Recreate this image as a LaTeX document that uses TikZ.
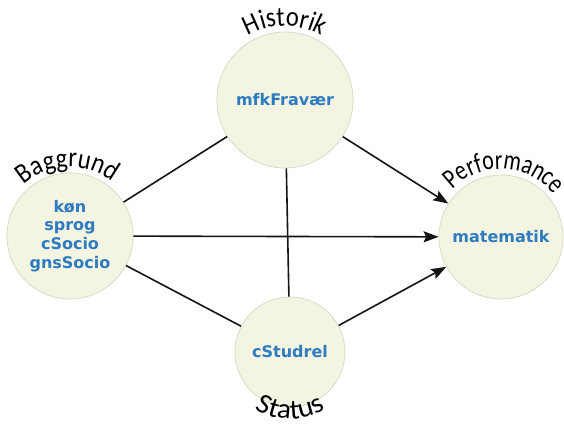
\documentclass[tikz,border=0pt]{standalone}
\usepackage{fontspec}
\usetikzlibrary{arrows.meta,decorations.text}
\newfontfamily\vfont{DejaVu Sans}
% arched group names, each set a little wider or narrower to fit its arc
\newfontfamily\hisfont[FakeStretch=0.88]{Carlito}
\newfontfamily\bagfont[FakeStretch=0.88]{Carlito}
\newfontfamily\perfont[FakeStretch=0.78]{Carlito}
\newfontfamily\stafont[FakeStretch=1.05]{Carlito}
\newcommand\arcsize{\fontsize{28pt}{32pt}\selectfont}
\definecolor{circfill}{HTML}{F4F4E3}
\definecolor{circline}{HTML}{DADAC6}
\definecolor{vartext}{HTML}{2E7BC0}
\definecolor{edgecol}{HTML}{141414}
\tikzset{
  varcircle/.style={circle, fill=circfill, draw=circline, line width=0.8pt,
    inner sep=0pt, text=vartext, align=center,
    font=\vfont\bfseries\fontsize{16pt}{18.7pt}\selectfont},
  link/.style={draw=edgecol, line width=1.6pt},
  effect/.style={link, -{Stealth[length=15pt,width=11pt,inset=2.5pt]}},
  arclabel/.style 2 args={decorate, decoration={text along path, text align=center,
    text={|#1\arcsize|#2}}}
}
\begin{document}
\begin{tikzpicture}[x=1pt,y=1pt]
  \useasboundingbox (0,0) rectangle (564,427);
  \fill[white] (0,0) rectangle (564,427);

  % variable groups
  \node[varcircle, minimum size=126pt] (bag) at (70,191) {køn\\sprog\\cSocio\\gnsSocio};
  \node[varcircle, minimum size=136pt] (his) at (285,327) {mfkFravær};
  \node[varcircle, minimum size=124pt] (per) at (501,190) {matematik};
  \node[varcircle, minimum size=110pt] (sta) at (290,75) {cStudrel};

  % connections
  \draw[link] (bag) -- (his);
  \draw[link] (bag) -- (sta);
  \draw[link] (his) -- (sta);
  \draw[effect] (bag) -- (per);
  \draw[effect] (his) -- (per);
  \draw[effect] (sta) -- (per);

  % group names along the circles
  \path[arclabel={\hisfont}{Historik}] (his.center) ++(165:74) arc[start angle=165, end angle=15, radius=74];
  \path[arclabel={\bagfont}{Baggrund}] (bag.center) ++(172:69) arc[start angle=172, end angle=12, radius=69];
  \path[arclabel={\perfont}{Performance}] (per.center) ++(167:68) arc[start angle=167, end angle=7, radius=68];
  \path[arclabel={\stafont}{Status}] (sta.center) ++(200:67) arc[start angle=200, end angle=340, radius=67];
\end{tikzpicture}
\end{document}
